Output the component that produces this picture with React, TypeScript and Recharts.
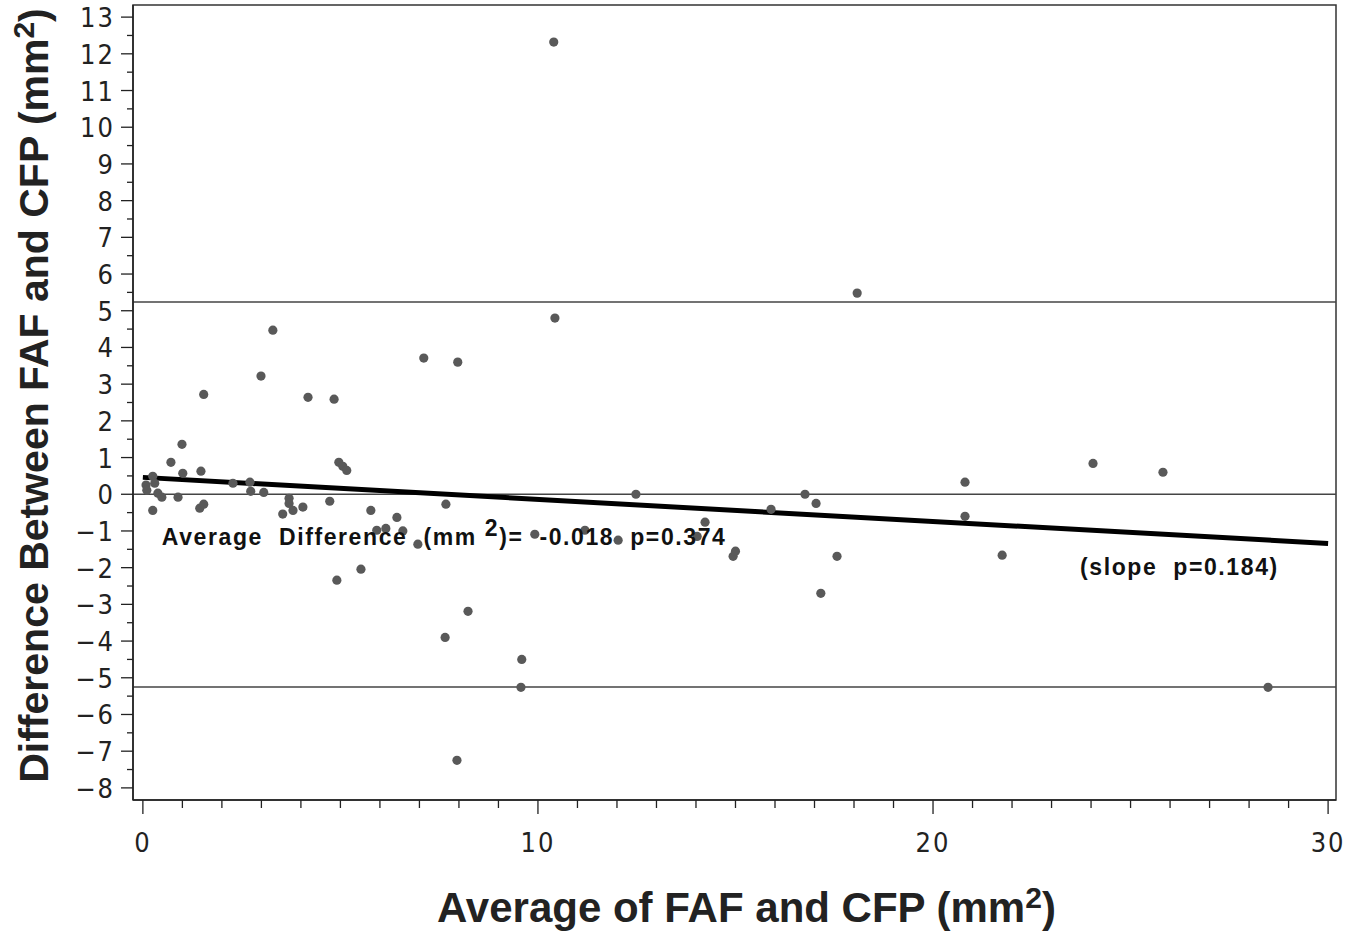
import React from "react";
import {
  ScatterChart,
  Scatter,
  XAxis,
  YAxis,
  ReferenceLine,
  ReferenceArea,
  ReferenceDot,
} from "recharts";

// Average of FAF and CFP (mm^2)
const avgValues = [
  10.4, 18.08, 10.43, 3.29, 7.11, 7.97, 2.99, 1.54, 4.18, 4.84,
  0.99, 0.71, 1.01, 1.47, 4.96, 5.06, 5.16, 24.05, 25.82, 20.81,
  20.81, 2.28, 2.71, 2.73, 3.06, 0.08, 0.1, 0.25, 0.3, 0.38,
  0.48, 0.89, 0.25, 1.44, 1.54, 3.7, 3.7, 3.54, 3.8, 4.05,
  4.73, 5.77, 6.43, 6.15, 5.92, 6.58, 6.96, 7.67, 4.91, 5.52,
  7.65, 8.23, 7.95, 9.59, 9.57, 9.92, 11.19, 12.03, 12.48, 14.03,
  14.23, 14.94, 15.0, 15.9, 16.76, 17.04, 17.57, 17.16, 21.75, 28.48,
];
// Difference between FAF and CFP (mm^2)
const diffValues = [
  12.32, 5.48, 4.8, 4.47, 3.71, 3.6, 3.22, 2.72, 2.64, 2.59,
  1.36, 0.87, 0.57, 0.63, 0.87, 0.76, 0.65, 0.84, 0.6, 0.33,
  -0.6, 0.3, 0.33, 0.08, 0.05, 0.25, 0.11, 0.49, 0.3, 0.03,
  -0.08, -0.08, -0.44, -0.38, -0.27, -0.11, -0.25, -0.54, -0.44, -0.35,
  -0.19, -0.44, -0.63, -0.93, -0.98, -1.0, -1.36, -0.27, -2.34, -2.04,
  -3.9, -3.19, -7.25, -4.5, -5.26, -1.09, -0.98, -1.25, 0.0, -1.15,
  -0.76, -1.69, -1.55, -0.41, 0.0, -0.25, -1.69, -2.7, -1.66, -5.26,
];

const xDomain = [-0.25, 30.2];
const yDomain = [-8.33, 13.33];
const xTicks = [
  0, 1, 2, 3, 4, 5, 6, 7, 8, 9, 10, 11, 12, 13, 14, 15, 16, 17, 18, 19, 20,
  21, 22, 23, 24, 25, 26, 27, 28, 29, 30,
];
const xTickLabels = [0, 10, 20, 30];
const yTicks = [
  -8, -7.5, -7, -6.5, -6, -5.5, -5, -4.5, -4, -3.5, -3, -2.5, -2, -1.5, -1,
  -0.5, 0, 0.5, 1, 1.5, 2, 2.5, 3, 3.5, 4, 4.5, 5, 5.5, 6, 6.5, 7, 7.5, 8,
  8.5, 9, 9.5, 10, 10.5, 11, 11.5, 12, 12.5, 13,
];
const limitsOfAgreement = [5.24, -5.25];
const meanLine = 0;
const regression = [
  { x: 0, y: 0.46 },
  { x: 30, y: -1.34 },
];
const meanNote = { x: 0.48, y: -1.39 };
const slopeNote = { x: 23.72, y: -2.2 };

const points = avgValues.map((x, i) => ({ x, y: diffValues[i] }));

const tickFont =
  "'Liberation Sans Narrow', 'DejaVu Sans Condensed', 'Roboto Condensed', 'Liberation Sans', sans-serif";
const titleFont =
  "'Liberation Sans Narrow', 'Liberation Sans', Arial, Helvetica, sans-serif";

const fmt = (v: number) => (v < 0 ? "\u2212" + Math.abs(v) : String(v));

const YTick = (props: any) => {
  const { x, y, payload } = props;
  const v = payload.value as number;
  const major = Number.isInteger(v);
  return (
    <g>
      <line x1={x} x2={x - (major ? 12 : 6)} y1={y} y2={y} stroke="#222" strokeWidth={1.3} />
      {major && (
        <text
          x={x - 18}
          y={y + 10}
          textAnchor="end"
          fontFamily={tickFont}
          fontSize={27}
          fill="#222"
          letterSpacing={2}
        >
          {fmt(v)}
        </text>
      )}
    </g>
  );
};

const XTick = (props: any) => {
  const { x, y, payload } = props;
  const v = payload.value as number;
  const major = xTickLabels.includes(v);
  return (
    <g>
      <line x1={x} x2={x} y1={y} y2={y + (major ? 14 : 8)} stroke="#222" strokeWidth={1.3} />
      {major && (
        <text
          x={x}
          y={y + 52}
          textAnchor="middle"
          fontFamily={tickFont}
          fontSize={27}
          fill="#222"
          letterSpacing={2}
        >
          {String(v)}
        </text>
      )}
    </g>
  );
};

const XTitle = (props: any) => {
  const vb = props.viewBox;
  return (
    <text
      x={vb.x + vb.width / 2 + 12}
      y={vb.y + 122}
      textAnchor="middle"
      fontFamily={titleFont}
      fontWeight="bold"
      fontSize={42}
      fill="#222"
    >
      Average of FAF and CFP (mm
      <tspan dy={-14} fontSize={30}>2</tspan>
      <tspan dy={14}>)</tspan>
    </text>
  );
};

const YTitle = (props: any) => {
  const vb = props.viewBox;
  const cx = 48;
  const cy = vb.y + vb.height / 2 - 7;
  return (
    <text
      x={cx}
      y={cy}
      transform={`rotate(-90 ${cx} ${cy})`}
      textAnchor="middle"
      fontFamily={titleFont}
      fontWeight="bold"
      fontSize={41}
      fill="#222"
    >
      Difference Between FAF and CFP (mm
      <tspan dy={-14} fontSize={30}>2</tspan>
      <tspan dy={14}>)</tspan>
    </text>
  );
};

const MeanText = (props: any) => (
  <text
    x={props.cx}
    y={props.cy}
    fontFamily={titleFont}
    fontWeight="bold"
    fontSize={23}
    fill="#111"
    letterSpacing={1.6}
    style={{ whiteSpace: "pre" }}
  >
    {"Average  Difference  (mm "}
    <tspan dy={-9}>2</tspan>
    <tspan dy={9}>{")=  -0.018  p=0.374"}</tspan>
  </text>
);

const SlopeText = (props: any) => (
  <text
    x={props.cx}
    y={props.cy}
    fontFamily={titleFont}
    fontWeight="bold"
    fontSize={23}
    fill="#111"
    letterSpacing={1.6}
    style={{ whiteSpace: "pre" }}
  >
    {"(slope  p=0.184)"}
  </text>
);

const Dot = (props: any) => (
  <circle cx={props.cx} cy={props.cy} r={4.6} fill="#595959" />
);

export default function App() {
  return (
    <div style={{ position: "absolute", left: 0, top: 0, background: "#fff" }}>
      <ScatterChart
        width={1362}
        height={934}
        margin={{ top: 5, right: 26, left: 0, bottom: 0 }}
      >
        <XAxis
          type="number"
          dataKey="x"
          domain={xDomain}
          allowDataOverflow
          ticks={xTicks}
          interval={0}
          tick={<XTick />}
          tickLine={false}
          tickSize={0}
          tickMargin={0}
          height={134}
          axisLine={{ stroke: "#222", strokeWidth: 1.5 }}
          label={{ content: <XTitle /> }}
        />
        <YAxis
          type="number"
          dataKey="y"
          domain={yDomain}
          allowDataOverflow
          ticks={yTicks}
          interval={0}
          tick={<YTick />}
          tickLine={false}
          tickSize={0}
          tickMargin={0}
          width={133}
          axisLine={{ stroke: "#222", strokeWidth: 1.5 }}
          label={{ content: <YTitle /> }}
        />
        <ReferenceArea
          x1={xDomain[0]}
          x2={xDomain[1]}
          y1={yDomain[0]}
          y2={yDomain[1]}
          fill="none"
          stroke="#333"
          strokeWidth={1.5}
        />
        {limitsOfAgreement.map((v) => (
          <ReferenceLine key={v} y={v} stroke="#444" strokeWidth={1.5} />
        ))}
        <ReferenceLine y={meanLine} stroke="#444" strokeWidth={1.5} />
        <Scatter data={points} shape={<Dot />} isAnimationActive={false} />
        <ReferenceLine
          segment={regression}
          stroke="#000"
          strokeWidth={5}
        />
        <ReferenceDot x={meanNote.x} y={meanNote.y} r={0} shape={<MeanText />} />
        <ReferenceDot x={slopeNote.x} y={slopeNote.y} r={0} shape={<SlopeText />} />
      </ScatterChart>
    </div>
  );
}
